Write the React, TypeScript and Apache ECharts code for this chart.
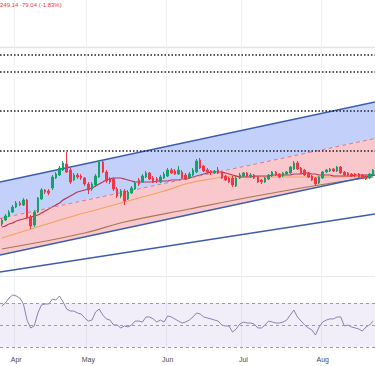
import React, { useEffect, useRef } from 'react';
import * as echarts from 'echarts';

// ---------- data ----------
const headerText = '249.14 -79.04 (-1.83%)';
const monthLabels = ['Apr', 'May', 'Jun', 'Jul', 'Aug'];
const monthStartIdx = [4, 24, 46, 67, 89];

// [open, close, low, high]
const candles: number[][] = [
  [3760, 3800, 3740, 3820], [3800, 3840, 3790, 3860], [3840, 3880, 3830, 3900], [3880, 3930, 3870, 3950],
  [3930, 3970, 3920, 3990], [3970, 3950, 3940, 3990], [3950, 4000, 3940, 4020], [4000, 3830, 3810, 4010],
  [3830, 3740, 3710, 3850], [3750, 3880, 3730, 3900], [3880, 4020, 3870, 4030], [4010, 4100, 4000, 4120],
  [4100, 4080, 4060, 4110], [4090, 4070, 4050, 4110], [4120, 4230, 4100, 4250], [4220, 4260, 4210, 4280],
  [4250, 4320, 4240, 4340], [4300, 4370, 4290, 4390], [4360, 4280, 4270, 4480], [4300, 4180, 4160, 4320],
  [4200, 4250, 4190, 4270], [4250, 4230, 4210, 4270], [4240, 4220, 4200, 4260], [4220, 4160, 4140, 4230],
  [4160, 4100, 4060, 4180], [4110, 4160, 4090, 4180], [4150, 4240, 4130, 4260], [4230, 4380, 4220, 4400],
  [4380, 4280, 4270, 4390], [4280, 4190, 4170, 4300], [4210, 4180, 4160, 4230], [4210, 4110, 4090, 4230],
  [4110, 4040, 4020, 4130], [4040, 4090, 4020, 4110], [4090, 3990, 3950, 4110], [4010, 4080, 4000, 4100],
  [4070, 4120, 4060, 4140], [4110, 4170, 4100, 4190], [4200, 4160, 4140, 4220], [4180, 4240, 4170, 4260],
  [4230, 4270, 4220, 4290], [4270, 4210, 4200, 4280], [4220, 4180, 4170, 4240], [4210, 4190, 4170, 4230],
  [4180, 4230, 4170, 4250], [4220, 4260, 4210, 4280], [4240, 4300, 4230, 4320], [4300, 4270, 4260, 4320],
  [4290, 4260, 4250, 4310], [4260, 4300, 4250, 4340], [4280, 4220, 4210, 4300], [4250, 4210, 4200, 4270],
  [4220, 4260, 4210, 4280], [4250, 4300, 4240, 4320], [4280, 4390, 4270, 4410], [4400, 4320, 4310, 4420],
  [4340, 4290, 4280, 4350], [4300, 4280, 4260, 4320], [4290, 4270, 4250, 4300], [4270, 4290, 4260, 4300],
  [4300, 4270, 4260, 4330], [4280, 4220, 4210, 4290], [4240, 4200, 4190, 4250], [4220, 4180, 4170, 4230],
  [4220, 4150, 4130, 4240], [4140, 4220, 4130, 4240], [4220, 4250, 4210, 4270], [4240, 4270, 4230, 4280],
  [4270, 4240, 4230, 4280], [4240, 4250, 4220, 4270], [4250, 4220, 4210, 4260], [4230, 4180, 4170, 4240],
  [4200, 4180, 4160, 4210], [4180, 4220, 4170, 4230], [4210, 4250, 4200, 4260], [4240, 4280, 4230, 4290],
  [4280, 4250, 4240, 4290], [4260, 4230, 4220, 4270], [4240, 4270, 4230, 4280], [4260, 4280, 4250, 4290],
  [4270, 4330, 4260, 4340], [4310, 4370, 4300, 4390], [4370, 4310, 4300, 4390], [4320, 4270, 4260, 4330],
  [4300, 4250, 4240, 4310], [4270, 4230, 4220, 4280], [4240, 4200, 4190, 4250], [4220, 4160, 4140, 4230],
  [4170, 4230, 4160, 4240], [4220, 4280, 4210, 4290], [4280, 4300, 4270, 4310], [4290, 4310, 4280, 4320],
  [4310, 4290, 4280, 4320], [4290, 4330, 4280, 4340], [4330, 4270, 4260, 4340], [4280, 4250, 4240, 4290],
  [4270, 4250, 4240, 4280], [4260, 4240, 4230, 4270], [4260, 4240, 4230, 4270], [4260, 4230, 4220, 4270],
  [4250, 4220, 4210, 4260], [4240, 4210, 4200, 4250], [4220, 4260, 4210, 4270], [4250, 4300, 4240, 4310],
];

const maShort = [
  3730, 3740, 3760, 3770, 3790, 3800, 3810, 3820, 3830, 3840, 3850, 3870, 3890, 3910, 3930, 3950,
  3970, 4000, 4020, 4040, 4060, 4080, 4090, 4100, 4110, 4120, 4140, 4160, 4180, 4200, 4210, 4220,
  4220, 4220, 4210, 4200, 4190, 4180, 4180, 4180, 4180, 4180, 4180, 4190, 4190, 4190, 4190, 4200,
  4200, 4200, 4210, 4210, 4220, 4230, 4240, 4250, 4260, 4270, 4280, 4280, 4280, 4280, 4270, 4260,
  4250, 4240, 4230, 4230, 4230, 4230, 4240, 4240, 4240, 4240, 4240, 4250, 4250, 4250, 4250, 4250,
  4250, 4260, 4260, 4260, 4270, 4270, 4260, 4260, 4250, 4250, 4250, 4250, 4240, 4240, 4240, 4240,
  4240, 4240, 4250, 4250, 4250, 4250, 4250, 4260,
];

// [index, value] readings of the slower averages
const maMid: number[][] = [
  [0, 3620], [9, 3720], [18, 3820], [27, 3910], [36, 4000], [45, 4090], [52, 4170],
  [58, 4210], [64, 4240], [75, 4230], [90, 4230], [103, 4240],
];
const maLong: number[][] = [
  [0, 3510], [23, 3670], [34, 3780], [52, 3910], [69, 4030], [88, 4150], [103, 4230],
];

// regression channel end points
const chanX = [-0.5, 103.5];
const chanUpper = [4180, 4980];
const chanMid = [3815, 4615];
const chanLower = [3450, 4250];
const longLine = [3280, 3860];

const levels = [5450, 5280, 4890, 4490];

const rsi = [
  67.3, 70, 74.5, 77.3, 76.4, 74.5, 69.1, 54.5, 47.3, 49.1, 60.9, 68.2, 69.1, 69.1, 73.6, 72.7,
  76.4, 70.9, 64.5, 62.7, 62.7, 60.9, 60, 56.4, 53.6, 54.5, 61.8, 64.5, 59.1, 55.5, 54.5, 50,
  50, 47.3, 49.1, 48.2, 50, 53.6, 53.6, 52.7, 57.3, 57.3, 55.5, 52.7, 54.5, 52.7, 58.2, 57.3,
  55.5, 53.6, 51.8, 52.7, 54.5, 57.3, 60.9, 60, 57.3, 56.4, 55.5, 54.5, 53.6, 50, 49.1, 49.1,
  43.6, 46.4, 50.9, 52.7, 51.8, 51.8, 50.9, 47.3, 47.3, 50, 53.6, 52.7, 51.8, 51.8, 52.7, 54.5,
  59.1, 63.6, 57.3, 53.6, 50, 47.3, 45.5, 40.9, 48.2, 52.7, 54.5, 55.5, 55.5, 57.3, 57.3, 49.1,
  50, 48.2, 47.3, 46.4, 44.5, 48.2, 50, 53.6,
];
const rsiLevels = [70, 50, 30];

// ---------- chart ----------
const categories = candles.map((_, i) => String(i));
const UP = '#15a06e';
const DOWN = '#f23645';
const GRID = '#eef0f4';

export default function App() {
  const ref = useRef<HTMLDivElement>(null);
  useEffect(() => {
    if (!ref.current) return;
    const chart = echarts.init(ref.current, undefined, { renderer: 'svg' });
    const isMonth = (idx: number) => monthStartIdx.includes(idx);
    const option: any = {
      animation: false,
      backgroundColor: '#ffffff',
      grid: [
        { left: 0, right: 0, top: 0, height: 276 },
        { left: 0, right: 0, top: 276, height: 74 },
      ],
      xAxis: [
        {
          type: 'category', gridIndex: 0, data: categories,
          axisLine: { show: false }, axisTick: { show: false }, axisLabel: { show: false },
          splitLine: { show: true, interval: isMonth, lineStyle: { color: GRID, width: 1 } },
        },
        { type: 'value', gridIndex: 0, min: chanX[0], max: chanX[1], show: false },
        {
          type: 'category', gridIndex: 1, data: categories,
          axisLine: { show: false }, axisTick: { show: false },
          axisLabel: {
            interval: isMonth,
            formatter: (_v: string, idx: number) => {
              const k = monthStartIdx.indexOf(idx);
              return k >= 0 ? monthLabels[k] : '';
            },
            color: '#4a4a4a', fontSize: 7, margin: 6, fontFamily: 'Liberation Sans, Arial, sans-serif',
          },
          splitLine: { show: true, interval: isMonth, lineStyle: { color: GRID, width: 1 } },
        },
      ],
      yAxis: [
        { type: 'value', gridIndex: 0, min: 3240, max: 6000, show: false },
        { type: 'value', gridIndex: 1, min: 27.27, max: 94.55, show: false },
      ],
      graphic: [
        {
          type: 'text', left: 0, top: 2, z: 100,
          style: { text: headerText, fill: DOWN, fontSize: 6, fontFamily: 'Liberation Sans, Arial, sans-serif' },
        },
        { type: 'line', shape: { x1: 0, y1: 47.5, x2: 375, y2: 47.5 }, style: { stroke: '#e3e4e8', lineWidth: 1.5 }, z: 0 },
        { type: 'line', shape: { x1: 0, y1: 276.5, x2: 375, y2: 276.5 }, style: { stroke: '#e8e9ed', lineWidth: 1 }, z: 0 },
      ],
      series: [
        {
          type: 'custom', name: 'channel fill', xAxisIndex: 1, yAxisIndex: 0, silent: true, z: 1,
          data: [[chanX[0], chanX[1], chanUpper[0], chanUpper[1], chanMid[0], chanMid[1], chanLower[0], chanLower[1]]],
          encode: { x: [0, 1], y: [2, 3, 6, 7] },
          renderItem: (_p: any, api: any) => {
            const x0 = api.value(0), x1 = api.value(1);
            const u0 = api.coord([x0, api.value(2)]), u1 = api.coord([x1, api.value(3)]);
            const m0 = api.coord([x0, api.value(4)]), m1 = api.coord([x1, api.value(5)]);
            const l0 = api.coord([x0, api.value(6)]), l1 = api.coord([x1, api.value(7)]);
            return {
              type: 'group',
              children: [
                { type: 'polygon', shape: { points: [u0, u1, m1, m0] }, style: { fill: '#c3d0fa' } },
                { type: 'polygon', shape: { points: [m0, m1, l1, l0] }, style: { fill: '#f9c8cc' } },
              ],
            };
          },
        },
        {
          type: 'line', name: 'long trend', xAxisIndex: 1, yAxisIndex: 0, z: 2, showSymbol: false, silent: true,
          data: [[chanX[0], longLine[0]], [chanX[1], longLine[1]]],
          lineStyle: { color: '#3d5bb0', width: 1.5 },
        },
        {
          type: 'line', name: 'MA long', xAxisIndex: 1, yAxisIndex: 0, z: 3, showSymbol: false, smooth: 0.4, silent: true,
          data: maLong, lineStyle: { color: '#a37a55', width: 1.2 },
        },
        {
          type: 'line', name: 'MA mid', xAxisIndex: 1, yAxisIndex: 0, z: 3, showSymbol: false, smooth: 0.4, silent: true,
          data: maMid, lineStyle: { color: '#f5a25e', width: 1.2 },
        },
        {
          type: 'line', name: 'MA short', xAxisIndex: 0, yAxisIndex: 0, z: 3, showSymbol: false, smooth: 0.3, silent: true,
          data: maShort, lineStyle: { color: '#b8365a', width: 1.2 },
        },
        {
          type: 'line', name: 'mid', xAxisIndex: 1, yAxisIndex: 0, z: 4, showSymbol: false, silent: true,
          data: [[chanX[0], chanMid[0]], [chanX[1], chanMid[1]]],
          lineStyle: { color: '#e07a86', width: 1, type: [4, 3] },
        },
        {
          type: 'line', name: 'upper', xAxisIndex: 1, yAxisIndex: 0, z: 4, showSymbol: false, silent: true,
          data: [[chanX[0], chanUpper[0]], [chanX[1], chanUpper[1]]],
          lineStyle: { color: '#3d5bb0', width: 1.5 },
          markLine: {
            silent: true, symbol: 'none', label: { show: false },
            lineStyle: { color: '#1c1c24', width: 1.5, type: [1.5, 2] },
            data: levels.map((v) => ({ yAxis: v })),
          },
        },
        {
          type: 'line', name: 'lower', xAxisIndex: 1, yAxisIndex: 0, z: 4, showSymbol: false, silent: true,
          data: [[chanX[0], chanLower[0]], [chanX[1], chanLower[1]]],
          lineStyle: { color: '#3d5bb0', width: 1.5 },
        },
        {
          type: 'candlestick', name: 'price', xAxisIndex: 0, yAxisIndex: 0, z: 5,
          data: candles, barWidth: 2,
          itemStyle: { color: UP, color0: DOWN, borderColor: UP, borderColor0: DOWN, borderWidth: 1 },
        },
        {
          type: 'line', name: 'RSI', xAxisIndex: 2, yAxisIndex: 1, showSymbol: false, silent: true, z: 3,
          data: rsi, lineStyle: { color: '#8f80b3', width: 1 },
          markArea: {
            silent: true, itemStyle: { color: 'rgba(126,87,194,0.1)' },
            data: [[{ yAxis: rsiLevels[0] }, { yAxis: rsiLevels[2] }]],
          },
          markLine: {
            silent: true, symbol: 'none', label: { show: false },
            lineStyle: { color: '#9a9ca6', width: 1, type: [3, 3] },
            data: rsiLevels.map((v) => ({ yAxis: v })),
          },
        },
      ],
    };
    chart.setOption(option);
    return () => chart.dispose();
  }, []);
  return <div ref={ref} style={{ position: 'fixed', left: 0, top: 0, width: 375, height: 366, background: '#fff' }} />;
}
